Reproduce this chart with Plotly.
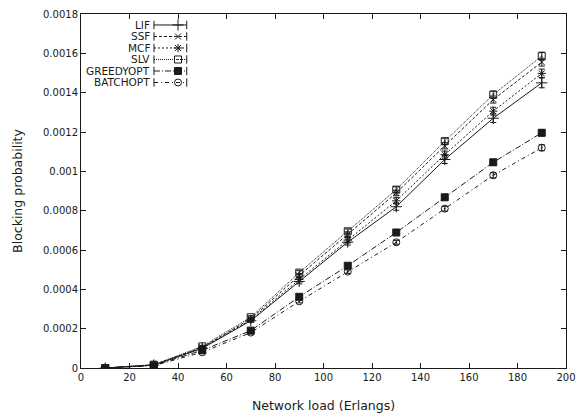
import plotly.graph_objects as go

# Offered load (Erlangs)
load = [10, 30, 50, 70, 90, 110, 130, 150, 170, 190]

# Blocking probability per allocation policy, with confidence half-widths
lif = [0.0, 0.000015, 0.000100, 0.000240, 0.000440, 0.000640, 0.000820, 0.001060, 0.001270, 0.001450]
lif_err = [0.0, 0.000002, 0.000005, 0.000008, 0.000012, 0.000015, 0.000018, 0.000020, 0.000022, 0.000025]

ssf = [0.0, 0.000016, 0.000105, 0.000250, 0.000470, 0.000680, 0.000890, 0.001130, 0.001365, 0.001555]
ssf_err = [0.0, 0.000002, 0.000005, 0.000008, 0.000010, 0.000012, 0.000014, 0.000016, 0.000018, 0.000020]

mcf = [0.0, 0.000015, 0.000102, 0.000245, 0.000450, 0.000650, 0.000850, 0.001085, 0.001306, 0.001498]
mcf_err = [0.0, 0.000002, 0.000005, 0.000008, 0.000012, 0.000014, 0.000016, 0.000018, 0.000020, 0.000022]

slv = [0.0, 0.000017, 0.000110, 0.000258, 0.000485, 0.000695, 0.000907, 0.001153, 0.001390, 0.001586]
slv_err = [0.0, 0.000002, 0.000005, 0.000008, 0.000010, 0.000012, 0.000014, 0.000016, 0.000018, 0.000020]

greedyopt = [0.0, 0.000013, 0.000090, 0.000190, 0.000362, 0.000520, 0.000689, 0.000868, 0.001046, 0.001196]
greedyopt_err = [0.0, 0.000001, 0.000004, 0.000006, 0.000008, 0.000010, 0.000011, 0.000012, 0.000014, 0.000016]

batchopt = [0.0, 0.000012, 0.000080, 0.000180, 0.000339, 0.000490, 0.000639, 0.000810, 0.000980, 0.001120]
batchopt_err = [0.0, 0.000001, 0.000004, 0.000006, 0.000008, 0.000009, 0.000010, 0.000012, 0.000013, 0.000015]

policy_names = ["LIF", "SSF", "MCF", "SLV", "GREEDYOPT", "BATCHOPT"]

y_ticks = [0, 0.0002, 0.0004, 0.0006, 0.0008, 0.001, 0.0012, 0.0014, 0.0016, 0.0018]
y_tick_text = ["0", "0.0002", "0.0004", "0.0006", "0.0008", "0.001", "0.0012", "0.0014", "0.0016", "0.0018"]
x_ticks = [0, 20, 40, 60, 80, 100, 120, 140, 160, 180, 200]

series = [
    (lif, lif_err, dict(dash="solid", symbol="cross-thin-open", size=8)),
    (ssf, ssf_err, dict(dash="3px,2px", symbol="x-thin-open", size=6)),
    (mcf, mcf_err, dict(dash="2px,2px", symbol="asterisk-open", size=7)),
    (slv, slv_err, dict(dash="1px,1px", symbol="square-open-dot", size=7)),
    (greedyopt, greedyopt_err, dict(dash="6px,2px,1px,2px", symbol="square", size=7)),
    (batchopt, batchopt_err, dict(dash="4px,3px,1px,3px", symbol="circle-open-dot", size=7)),
]

INK = "#1a1a1a"
FONT = "DejaVu Sans, Verdana, sans-serif"

fig = go.Figure()

for name, (vals, errs, st) in zip(policy_names, series):
    fig.add_trace(go.Scatter(
        x=load, y=vals, name=name, mode="lines+markers",
        line=dict(color=INK, width=1, dash=st["dash"]),
        marker=dict(symbol=st["symbol"], size=st["size"], color=INK,
                    line=dict(color=INK, width=1)),
        error_y=dict(type="data", array=errs, visible=True,
                     color=INK, thickness=1, width=3),
        showlegend=False,
    ))

# Key in gnuplot style: right-aligned label followed by the line sample
key_text_x = 0.1437
key_x0, key_xm, key_x1 = 0.1505, 0.200, 0.218
key_rows = [0.969, 0.9365, 0.904, 0.8715, 0.839, 0.8065]

for name, (vals, errs, st), ky in zip(policy_names, series, key_rows):
    fig.add_trace(go.Scatter(
        x=[key_x0, key_x1], y=[ky, ky], xaxis="x2", yaxis="y2",
        mode="lines", line=dict(color=INK, width=1, dash=st["dash"]),
        showlegend=False, hoverinfo="skip",
    ))
    fig.add_trace(go.Scatter(
        x=[key_x0, key_x1], y=[ky, ky], xaxis="x2", yaxis="y2",
        mode="markers", marker=dict(symbol="line-ns-open", size=6, color=INK,
                                    line=dict(color=INK, width=1)),
        showlegend=False, hoverinfo="skip",
    ))
    fig.add_trace(go.Scatter(
        x=[key_xm], y=[ky], xaxis="x2", yaxis="y2",
        mode="markers", marker=dict(symbol=st["symbol"], size=st["size"], color=INK,
                                    line=dict(color=INK, width=1)),
        showlegend=False, hoverinfo="skip",
    ))
    fig.add_annotation(
        x=key_text_x, y=ky, xref="paper", yref="paper",
        text=name, showarrow=False, xanchor="right", yanchor="middle",
        borderpad=0,
        font=dict(family=FONT, size=10.5, color=INK),
    )

axis_common = dict(
    showline=True, linecolor=INK, linewidth=1, mirror="allticks",
    ticks="inside", ticklen=5, tickwidth=1, tickcolor=INK,
    showgrid=False, zeroline=False, automargin=False,
    tickfont=dict(family=FONT, size=10, color=INK),
)

fig.update_layout(
    width=577, height=415,
    margin=dict(l=81, r=11, t=14, b=47),
    paper_bgcolor="white", plot_bgcolor="white",
    font=dict(family=FONT, color=INK),
    xaxis=dict(range=[0, 200], tickvals=x_ticks,
               title=dict(text="Network load (Erlangs)", standoff=19,
                          font=dict(family=FONT, size=12.5, color=INK)),
               **axis_common),
    yaxis=dict(range=[0, 0.0018], tickvals=y_ticks, ticktext=y_tick_text,
               title=dict(text="Blocking probability", standoff=17,
                          font=dict(family=FONT, size=12.5, color=INK)),
               **axis_common),
    xaxis2=dict(overlaying="x", range=[0, 1], visible=False, fixedrange=True),
    yaxis2=dict(overlaying="y", range=[0, 1], visible=False, fixedrange=True),
)

fig.write_html("out.html")
